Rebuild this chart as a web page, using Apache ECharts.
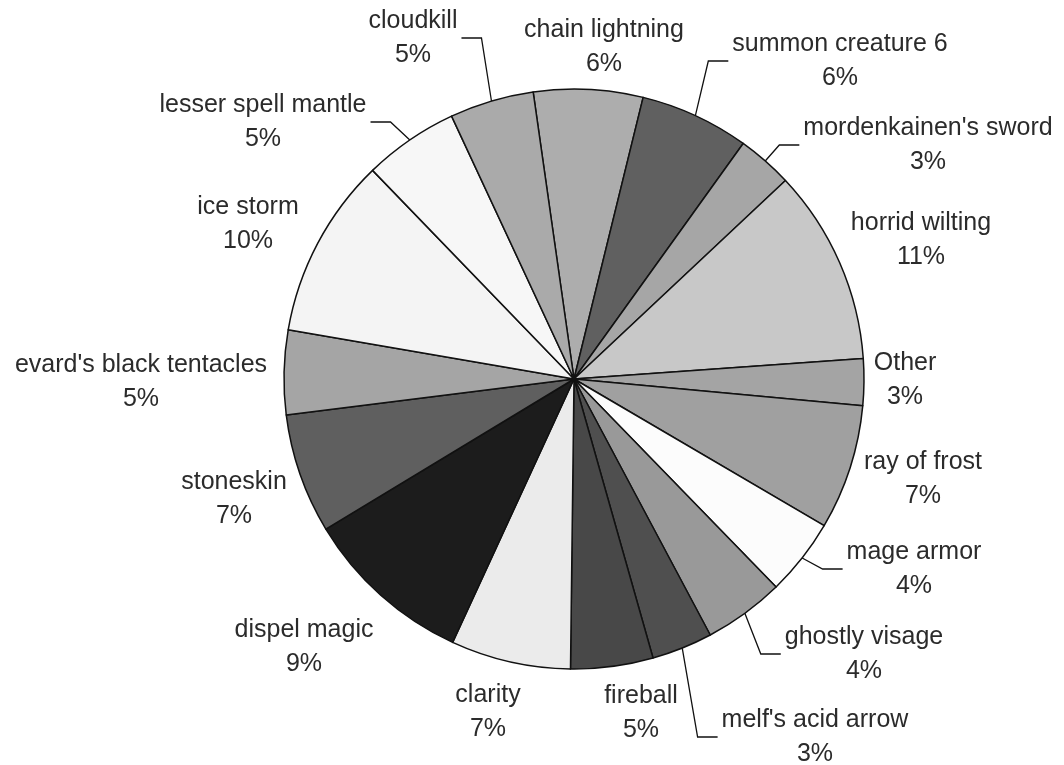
<!DOCTYPE html>
<html>
<head>
<meta charset="utf-8">
<title>spells pie</title>
<script src="https://cdn.jsdelivr.net/npm/echarts@6/dist/echarts.min.js"></script>
<style>
  html, body { margin: 0; padding: 0; background: #fff; }
  #chart { width: 1064px; height: 765px; }
</style>
</head>
<body>
<div id="chart"></div>
<script>
// slices in clockwise order, starting with the one across 12 o'clock
var spells = ["chain lightning", "summon creature 6", "mordenkainen's sword", "horrid wilting",
  "Other", "ray of frost", "mage armor", "ghostly visage", "melf's acid arrow", "fireball",
  "clarity", "dispel magic", "stoneskin", "evard's black tentacles", "ice storm",
  "lesser spell mantle", "cloudkill"];
var shares = [6.1, 6.1, 3.1, 10.9, 2.6, 7.0, 4.3, 4.5, 3.4, 4.6, 6.7, 9.5, 6.7, 4.7, 10.1, 5.3, 4.7];

var grays = ["#adadad", "#606060", "#a6a6a6", "#c8c8c8", "#a4a4a4", "#a0a0a0", "#fcfcfc", "#999999",
  "#4f4f4f", "#484848", "#ebebeb", "#1c1c1c", "#5f5f5f", "#a5a5a5", "#f4f4f4", "#f7f7f7", "#aaaaaa"];
var hasLeader = [false, true, true, false, false, false, true, true, true, false,
  false, false, false, false, false, true, true];
// where each label's text block sits (center, px)
var labelCenters = [[604, 47], [840, 61], [928, 145], [921, 240], [905, 380], [923, 479],
  [914, 569], [864, 654], [815, 737], [641, 713], [488, 712], [304, 647], [234, 499],
  [141, 382], [248, 224], [263, 122], [413, 38]];

var cx = 574, cy = 379, radius = 290;
var firstSliceAt = -8.1; // degrees, clockwise from 12 o'clock

var total = shares.reduce(function (a, b) { return a + b; }, 0);

function midAngle(i) {
  var before = 0;
  for (var k = 0; k < i; k++) before += shares[k];
  return firstSliceAt + 360 * (before + shares[i] / 2) / total;
}

var chart = echarts.init(document.getElementById('chart'));

var option = {
  backgroundColor: '#ffffff',
  animation: false,
  series: [
    {
      type: 'pie',
      center: [cx, cy],
      radius: radius,
      startAngle: 90 - firstSliceAt,
      clockwise: true,
      avoidLabelOverlap: false,
      itemStyle: { borderColor: '#111', borderWidth: 1.5 },
      label: {
        show: true,
        position: 'outside',
        color: '#2b2b2b',
        fontFamily: 'Liberation Sans, Arial, sans-serif',
        fontSize: 25,
        lineHeight: 34,
        formatter: function (p) {
          return p.name + '\n' + Math.round(p.value / total * 100) + '%';
        }
      },
      labelLine: { show: true, smooth: false, lineStyle: { color: '#111', width: 1.3 } },
      labelLayout: function (params) {
        var i = params.dataIndex;
        var c = labelCenters[i];
        var w = params.labelRect.width;
        var out = { x: c[0], y: c[1], align: 'center', verticalAlign: 'middle' };
        if (hasLeader[i]) {
          var a = midAngle(i) * Math.PI / 180;
          var p0 = [cx + radius * Math.sin(a), cy - radius * Math.cos(a)];
          var side = c[0] > p0[0] ? -1 : 1;
          var edge = c[0] + side * (w / 2 + 4);
          out.labelLinePoints = [p0, [edge + side * 20, c[1]], [edge, c[1]]];
        }
        return out;
      },
      emphasis: { disabled: true },
      data: spells.map(function (name, i) {
        return {
          name: name,
          value: shares[i],
          itemStyle: { color: grays[i] },
          labelLine: { show: hasLeader[i] }
        };
      })
    }
  ]
};

chart.setOption(option);
</script>
</body>
</html>
